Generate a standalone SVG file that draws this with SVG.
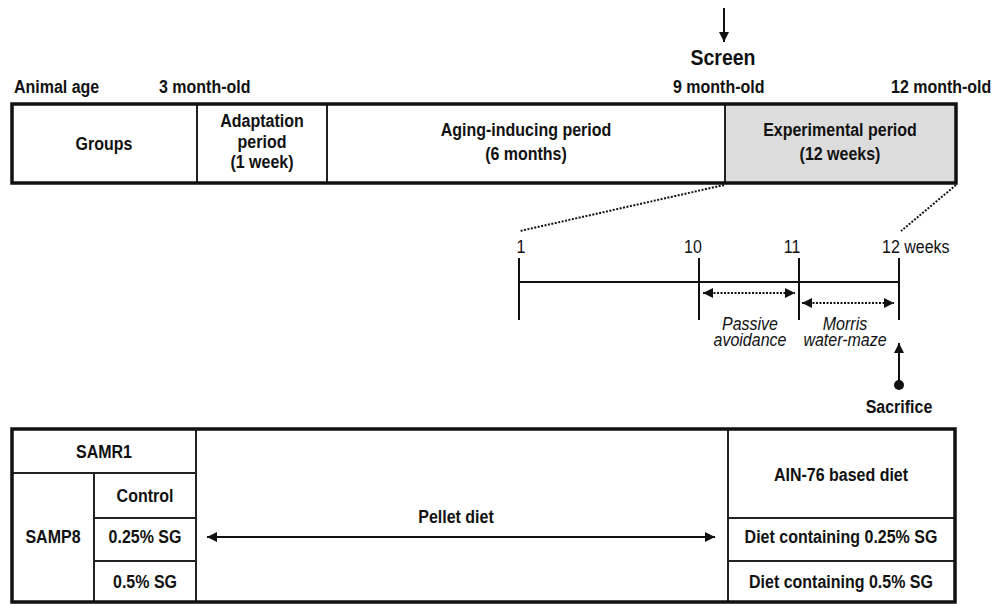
<svg xmlns="http://www.w3.org/2000/svg" width="994" height="604" viewBox="0 0 994 604">
<style>
text{font-family:"Liberation Sans",Arial,sans-serif;fill:#111}
.b{font-weight:bold;font-size:16px}
.c{text-anchor:middle}
.r{font-size:16px}
.i{font-style:italic;font-size:16px}
.outer{fill:none;stroke:#111;stroke-width:3.5}
.inner{stroke:#222;stroke-width:2;fill:none}
.ln{stroke:#111;stroke-width:2;fill:none}
.dot{stroke:#111;stroke-width:2;stroke-dasharray:2 1.5;fill:none}
</style>
<defs>
<marker id="ah2" viewBox="0 0 10 10" refX="10" refY="5" markerWidth="10" markerHeight="10" orient="auto-start-reverse" markerUnits="userSpaceOnUse">
<path d="M0,0L10,5L0,10z" fill="#111"/>
</marker>
</defs>

<g id="age-labels">
<text class="b" x="14" y="93" transform="matrix(1 0 0 1.12 0 -11.16)">Animal age</text>
<text class="b" x="159" y="93" transform="matrix(1 0 0 1.12 0 -11.16)">3 month-old</text>
<text class="b" x="673" y="93" transform="matrix(1 0 0 1.12 0 -11.16)">9 month-old</text>
<text class="b" x="891" y="93" transform="matrix(1 0 0 1.12 0 -11.16)">12 month-old</text>
</g>

<g id="screen">
<text class="c" x="723" y="65" style="font-weight:bold;font-size:19.5px" transform="matrix(1 0 0 1.12 0 -7.8)">Screen</text>
</g>

<g id="top-table">
<rect x="725" y="104" width="231" height="79" fill="#dcdcdc"/>
<line class="inner" x1="197" y1="104" x2="197" y2="183"/>
<line class="inner" x1="327" y1="104" x2="327" y2="183"/>
<line class="inner" x1="725" y1="104" x2="725" y2="183"/>
<rect class="outer" x="12" y="104" width="944" height="79"/>
</g>
<g id="groups"><text class="b c" x="104" y="150" transform="matrix(1 0 0 1.12 0 -18)">Groups</text></g>
<g id="adaptation">
<text class="b c" x="262" y="127" transform="matrix(1 0 0 1.12 0 -15.24)">Adaptation</text>
<text class="b c" x="262" y="148" transform="matrix(1 0 0 1.12 0 -17.76)">period</text>
<text class="b c" x="262" y="168" transform="matrix(1 0 0 1.12 0 -20.16)">(1 week)</text>
</g>
<g id="aging">
<text class="b c" x="526" y="136" transform="matrix(1 0 0 1.12 0 -16.32)">Aging-inducing period</text>
<text class="b c" x="526" y="160" transform="matrix(1 0 0 1.12 0 -19.2)">(6 months)</text>
</g>
<g id="experimental">
<text class="b c" x="840" y="136" transform="matrix(1 0 0 1.12 0 -16.32)">Experimental period</text>
<text class="b c" x="840" y="160" transform="matrix(1 0 0 1.12 0 -19.2)">(12 weeks)</text>
</g>

<g id="timeline">
<line class="ln" x1="519" y1="282" x2="899" y2="282"/>
<line class="ln" x1="519" y1="258" x2="519" y2="320"/>
<line class="ln" x1="699" y1="258" x2="699" y2="320"/>
<line class="ln" x1="799" y1="258" x2="799" y2="320"/>
<line class="ln" x1="899" y1="258" x2="899" y2="320"/>
<text class="r c" x="521" y="253" transform="matrix(1 0 0 1.12 0 -30.36)">1</text>
<text class="r c" x="693" y="253" transform="matrix(1 0 0 1.12 0 -30.36)">10</text>
<text class="r c" x="792" y="253" transform="matrix(1 0 0 1.12 0 -30.36)">11</text>
<text class="r" x="882" y="253" transform="matrix(1 0 0 1.12 0 -30.36)">12 weeks</text>
</g>

<g id="passive">
<text class="i c" x="750" y="330" transform="matrix(1 0 0 1.12 0 -39.6)">Passive</text>
<text class="i c" x="750" y="346" transform="matrix(1 0 0 1.12 0 -41.52)">avoidance</text>
</g>
<g id="morris">
<text class="i c" x="845" y="330" transform="matrix(1 0 0 1.12 0 -39.6)">Morris</text>
<text class="i c" x="845" y="346" transform="matrix(1 0 0 1.12 0 -41.52)">water-maze</text>
</g>
<g id="sacrifice">
<circle cx="899" cy="385" r="5" fill="#111"/>
<text class="b c" x="899" y="413" transform="matrix(1 0 0 1.12 0 -49.56)">Sacrifice</text>
</g>

<g id="bottom-table">
<line class="inner" x1="196" y1="429" x2="196" y2="602"/>
<line class="inner" x1="728" y1="429" x2="728" y2="602"/>
<line class="inner" x1="12" y1="473" x2="196" y2="473"/>
<line class="inner" x1="94" y1="473" x2="94" y2="602"/>
<line class="inner" x1="94" y1="518" x2="196" y2="518"/>
<line class="inner" x1="94" y1="561" x2="196" y2="561"/>
<line class="inner" x1="728" y1="518" x2="955" y2="518"/>
<line class="inner" x1="728" y1="561" x2="955" y2="561"/>
<rect class="outer" x="12" y="429" width="943" height="173"/>
</g>
<g id="samr1"><text class="b c" x="104" y="458" transform="matrix(1 0 0 1.12 0 -54.96)">SAMR1</text></g>
<g id="samp8"><text class="b c" x="53" y="543" transform="matrix(1 0 0 1.12 0 -65.16)">SAMP8</text></g>
<g id="control"><text class="b c" x="145" y="502" transform="matrix(1 0 0 1.12 0 -60.24)">Control</text></g>
<g id="sg025"><text class="b c" x="145" y="543" transform="matrix(1 0 0 1.12 0 -65.16)">0.25% SG</text></g>
<g id="sg05"><text class="b c" x="145" y="588" transform="matrix(1 0 0 1.12 0 -70.56)">0.5% SG</text></g>
<g id="pellet"><text class="b c" x="456" y="523" transform="matrix(1 0 0 1.12 0 -62.76)">Pellet diet</text></g>
<g id="ain76"><text class="b c" x="841" y="481" transform="matrix(1 0 0 1.12 0 -57.72)">AIN-76 based diet</text></g>
<g id="diet025"><text class="b c" x="841" y="543" transform="matrix(1 0 0 1.12 0 -65.16)">Diet containing 0.25% SG</text></g>
<g id="diet05"><text class="b c" x="841" y="588" transform="matrix(1 0 0 1.12 0 -70.56)">Diet containing 0.5% SG</text></g>

<g id="connectors">
<line class="ln" x1="724" y1="8" x2="724" y2="42" marker-end="url(#ah2)"/>
<line class="dot" x1="724" y1="185" x2="520" y2="231"/>
<line class="dot" x1="956" y1="185" x2="901" y2="231"/>
<line class="dot" x1="703" y1="293" x2="795" y2="293" marker-start="url(#ah2)" marker-end="url(#ah2)"/>
<line class="dot" x1="802" y1="303" x2="894" y2="303" marker-start="url(#ah2)" marker-end="url(#ah2)"/>
<line class="ln" x1="899" y1="385" x2="899" y2="343" marker-end="url(#ah2)"/>
<line class="ln" x1="207" y1="537" x2="715" y2="537" marker-start="url(#ah2)" marker-end="url(#ah2)"/>
</g>
</svg>
